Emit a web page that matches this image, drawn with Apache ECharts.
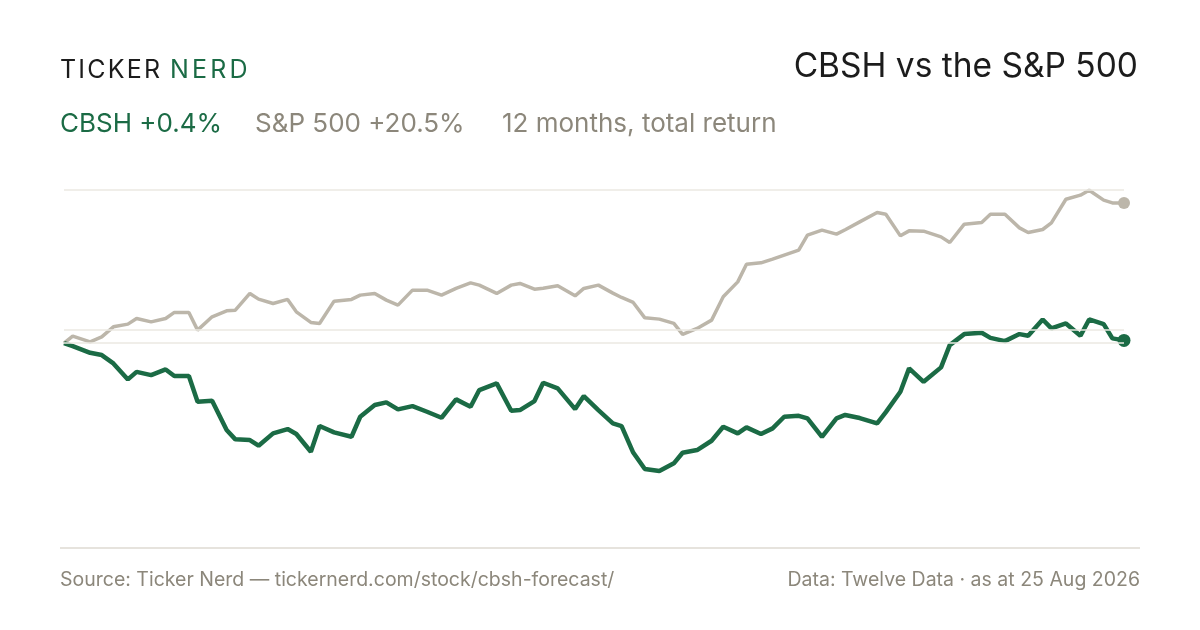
<!DOCTYPE html>
<html>
<head>
<meta charset="utf-8">
<script src="https://cdn.jsdelivr.net/npm/echarts@6/dist/echarts.min.js"></script>
<style>
  html, body { margin: 0; padding: 0; background: #ffffff; }
  #chart { width: 1200px; height: 630px; }
</style>
</head>
<body>
<div id="chart"></div>
<script>
// Observation dates (shared by both series)
const dates = [
  '2025-08-25','2025-08-28','2025-09-03','2025-09-07','2025-09-11','2025-09-16','2025-09-19','2025-09-24','2025-09-29',
  '2025-10-02','2025-10-07','2025-10-10','2025-10-15','2025-10-20','2025-10-23','2025-10-28','2025-10-31',
  '2025-11-05','2025-11-10','2025-11-13','2025-11-18','2025-11-21','2025-11-26',
  '2025-12-02','2025-12-05','2025-12-10','2025-12-14','2025-12-18','2025-12-23','2025-12-28',
  '2026-01-02','2026-01-07','2026-01-12','2026-01-15','2026-01-21','2026-01-26','2026-01-29',
  '2026-02-03','2026-02-06','2026-02-11','2026-02-17','2026-02-20','2026-02-25',
  '2026-03-02','2026-03-05','2026-03-09','2026-03-13','2026-03-18','2026-03-23','2026-03-26','2026-03-31',
  '2026-04-05','2026-04-09','2026-04-14','2026-04-17','2026-04-22','2026-04-26','2026-04-30',
  '2026-05-05','2026-05-08','2026-05-13','2026-05-18','2026-05-21','2026-05-26',
  '2026-06-01','2026-06-04','2026-06-09','2026-06-12','2026-06-17','2026-06-23','2026-06-26',
  '2026-07-01','2026-07-07','2026-07-10','2026-07-15','2026-07-20','2026-07-23','2026-07-28','2026-07-31',
  '2026-08-05','2026-08-10','2026-08-13','2026-08-18','2026-08-21','2026-08-25'
];

// S&P 500 cumulative total return, %
const sp500Returns = [
  0, 1.02, 0.19, 0.92, 2.38, 2.78, 3.61, 3.11, 3.61,
  4.49, 4.49, 1.90, 3.85, 4.72, 4.82, 7.27, 6.43,
  5.80, 6.39, 4.58, 3.03, 2.88, 6.14,
  6.39, 7.02, 7.27, 6.29, 5.56, 7.75, 7.75,
  7.02, 8.00, 8.82, 8.48, 7.27, 8.48, 8.73,
  7.89, 8.04, 8.38, 6.92, 8.00, 8.48,
  7.31, 6.68, 5.95, 3.70, 3.51, 2.88, 1.27, 2.15,
  3.36, 6.77, 8.96, 11.55, 11.74, 12.28, 12.87,
  13.60, 15.79, 16.52, 15.94, 16.58, 17.73,
  19.11, 18.86, 15.69, 16.42, 16.37, 15.54, 14.72,
  17.40, 17.65, 18.86, 18.86, 16.86, 16.18, 16.62, 17.59,
  21.05, 21.64, 22.37, 20.91, 20.51, 20.5
];

// CBSH cumulative total return, %
const cbshReturns = [
  0, -0.44, -1.42, -1.75, -2.97, -5.31, -4.20, -4.68, -3.85,
  -4.82, -4.82, -8.58, -8.44, -12.72, -14.08, -14.18, -15.01,
  -13.20, -12.57, -13.30, -15.89, -12.13, -13.06,
  -13.70, -10.77, -9.06, -8.67, -9.69, -9.21, -10.04,
  -10.92, -8.23, -9.31, -6.87, -5.89, -9.90, -9.80,
  -8.48, -5.80, -6.62, -9.65, -7.75, -9.80,
  -11.74, -12.13, -16.01, -18.42, -18.71, -17.59, -16.04, -15.64,
  -14.28, -12.24, -13.20, -12.32, -13.30, -12.47, -10.77,
  -10.63, -11.01, -13.70, -11.01, -10.51, -10.96,
  -11.74, -10.09, -7.12, -3.70, -5.66, -3.55, -0.29,
  1.32, 1.51, 0.77, 0.29, 1.32, 1.07, 3.46, 2.15,
  2.88, 1.07, 3.46, 2.78, 0.69, 0.4
];

// Reference gridline levels, %
const gridLevels = [22.5, 2, 0];

// Text
const brandWords = ['TICKER', 'NERD'];
const titleText = 'CBSH vs the S&P 500';
const subtitleParts = ['CBSH +0.4%', 'S&P 500 +20.5%', '12 months, total return'];
const footerLeft = 'Source: Ticker Nerd \u2014 tickernerd.com/stock/cbsh-forecast/';
const footerRight = 'Data: Twelve Data \u00b7 as at 25 Aug 2026';

const GREEN = '#1b6b45';
const GREY_LINE = '#bcb6aa';
const GREY_TEXT = '#8c877b';
const INK = '#1c1c1c';
const FONT = 'Inter, "Noto Sans", sans-serif';

const chart = echarts.init(document.getElementById('chart'), null, { renderer: 'canvas' });

function pairs(vals) { return vals.map((v, i) => [dates[i], v]); }
function endDot(size) {
  return function (value, params) { return params.dataIndex === dates.length - 1 ? size : 0; };
}

// Letter-spaced brand word: one text element per letter, advanced by measured widths
const measureCtx = document.createElement('canvas').getContext('2d');
function spacedWord(word, x, y, font, fill, spacing) {
  measureCtx.font = font;
  const out = [];
  let cx = x;
  for (const ch of word) {
    out.push({ type: 'text', x: cx, y: y, style: { text: ch, fill: fill, font: font, textVerticalAlign: 'middle' } });
    cx += measureCtx.measureText(ch).width + spacing;
  }
  return out;
}
const brandFont = '400 25px ' + FONT;

chart.setOption({
  animation: false,
  backgroundColor: '#ffffff',
  grid: { left: 64, right: 76, top: 189.3, height: 358.9 },
  xAxis: {
    type: 'time',
    min: dates[0],
    max: dates[dates.length - 1],
    show: false
  },
  yAxis: {
    type: 'value',
    min: -30,
    max: 22.5,
    show: false,
    splitLine: { show: false }
  },
  series: [
    {
      name: 'S&P 500',
      type: 'line',
      data: pairs(sp500Returns),
      showSymbol: true,
      showAllSymbol: true,
      symbol: 'circle',
      symbolSize: endDot(12),
      itemStyle: { color: GREY_LINE },
      lineStyle: { color: GREY_LINE, width: 3.5 },
      silent: true,
      z: 2,
      markLine: {
        silent: true,
        symbol: 'none',
        label: { show: false },
        lineStyle: { color: '#ebe8e2', width: 1.5, type: 'solid' },
        data: gridLevels.map(v => ({ yAxis: v }))
      }
    },
    {
      name: 'CBSH',
      type: 'line',
      data: pairs(cbshReturns),
      showSymbol: true,
      showAllSymbol: true,
      symbol: 'circle',
      symbolSize: endDot(13),
      itemStyle: { color: GREEN },
      lineStyle: { color: GREEN, width: 4.5 },
      silent: true,
      z: 3
    }
  ],
  graphic: [].concat(
    spacedWord(brandWords[0], 60, 70, brandFont, INK, 2.2),
    spacedWord(brandWords[1], 170, 70, brandFont, GREEN, 3.2),
    [
      { type: 'text', x: 1138, y: 67, style: { text: titleText, fill: INK, font: '400 33.5px ' + FONT, textAlign: 'right', textVerticalAlign: 'middle' } },
      { type: 'text', x: 60, y: 124, style: { text: subtitleParts[0], fill: GREEN, font: '400 26px ' + FONT, textVerticalAlign: 'middle' } },
      { type: 'text', x: 255, y: 124, style: { text: subtitleParts[1], fill: GREY_TEXT, font: '400 26px ' + FONT, textVerticalAlign: 'middle' } },
      { type: 'text', x: 502, y: 124, style: { text: subtitleParts[2], fill: GREY_TEXT, font: '400 26px ' + FONT, textVerticalAlign: 'middle' } },
      { type: 'line', shape: { x1: 60, y1: 548, x2: 1140, y2: 548 }, style: { stroke: '#dedad2', lineWidth: 1.5 } },
      { type: 'text', x: 60, y: 580, style: { text: footerLeft, fill: GREY_TEXT, font: '400 19.5px ' + FONT, textVerticalAlign: 'middle' } },
      { type: 'text', x: 1140, y: 580, style: { text: footerRight, fill: GREY_TEXT, font: '400 19.5px ' + FONT, textAlign: 'right', textVerticalAlign: 'middle' } }
    ]
  )
});
</script>
</body>
</html>
